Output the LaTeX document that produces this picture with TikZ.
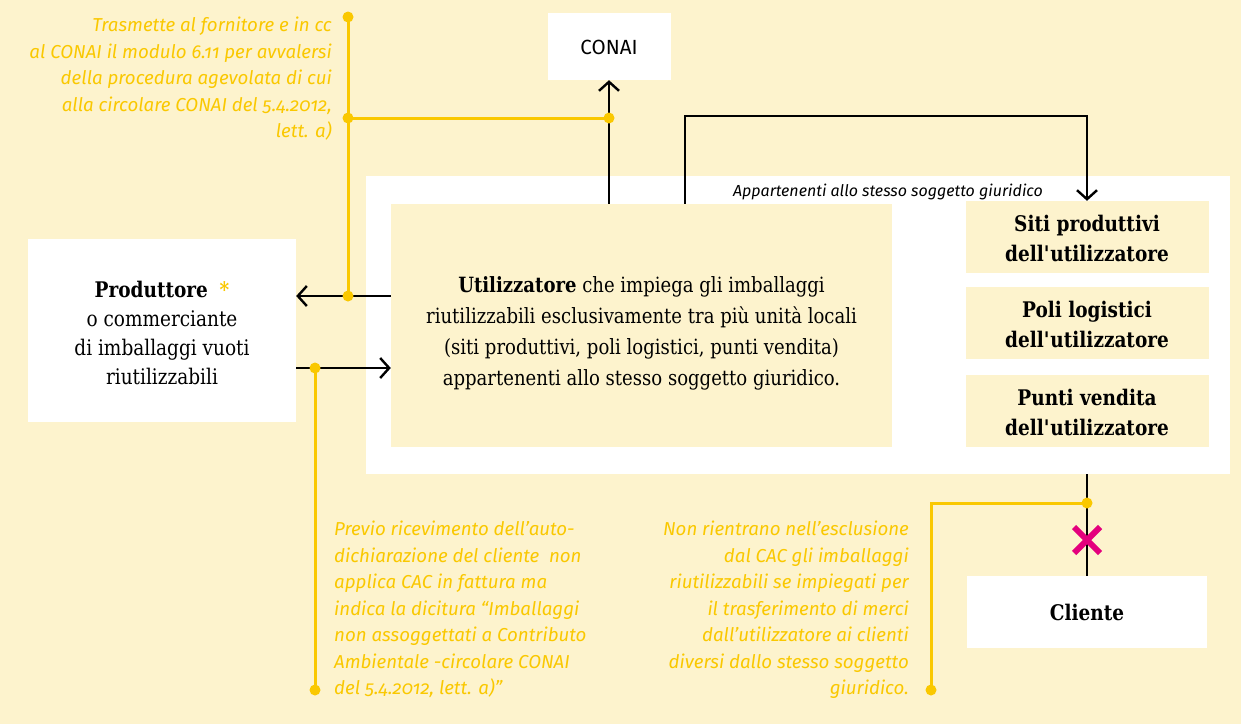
\documentclass[tikz,border=0pt]{standalone}
\usepackage{fontspec}
\setmainfont{DejaVu Serif}[FakeStretch=0.86]
\newfontfamily\notefont{Fira Sans}[Numbers=OldStyle]
\newfontfamily\labelfont{Fira Sans}
\usetikzlibrary{arrows.meta, positioning, shapes.misc}
\definecolor{paper}{RGB}{253, 243, 205}
\definecolor{gold}{RGB}{250, 200, 0}
\definecolor{mag}{RGB}{228, 0, 125}
% lines of a box text, moved down a little
\newcommand{\droptext}[2]{\raisebox{-#1}[\height][\depth]{\begin{tabular}{@{}c@{}}#2\end{tabular}}}

\begin{document}
\begin{tikzpicture}[
    x=1pt, y=-1pt,
    >={Straight Barb[length=9pt, width=20pt]},
    box/.style={rectangle, fill=#1, inner sep=0pt, align=center,
      font=\fontsize{21}{31}\selectfont},
    unit/.style={box=paper, minimum width=243pt, minimum height=72pt,
      font=\fontsize{21.5}{30}\selectfont\bfseries},
    note/.style={inner sep=0pt, text=gold,
      font=\notefont\itshape\fontsize{18.7}{26.5}\selectfont},
    arr/.style={->, line width=2.4pt},
    link/.style={line width=2.4pt},
    tie/.style={gold, line width=3pt},
    dot/.style={circle, fill=gold, inner sep=0pt, minimum size=11pt},
    nox/.style={cross out, draw=mag, line width=6pt, minimum size=20pt, inner sep=0pt}
  ]
  \fill[paper] (0,0) rectangle (1241,724);
  \useasboundingbox (0,0) rectangle (1241,724);

  % same legal entity
  \node[box=white, minimum width=864pt, minimum height=298pt] (group) at (798,325) {};
  \node[anchor=base, inner sep=0pt, font=\labelfont\itshape\fontsize{16}{18}\selectfont]
    (grouplbl) at (888,196) {Appartenenti allo stesso soggetto giuridico};

  \node[box=paper, minimum width=501pt, minimum height=243pt] (util) at (641.5,325.5)
    {\droptext{7pt}{\textbf{Utilizzatore} che impiega gli imballaggi\\
     riutilizzabili esclusivamente tra più unità locali\\
     (siti produttivi, poli logistici, punti vendita)\\
     appartenenti allo stesso soggetto giuridico.}};

  \node[unit] (siti) at (1087,237) {\droptext{3.5pt}{Siti produttivi\\dell\textquotesingle utilizzatore}};
  \node[unit] (poli) at (1087,323) {\droptext{3.5pt}{Poli logistici\\dell\textquotesingle utilizzatore}};
  \node[unit] (punti) at (1087,411) {\droptext{3.5pt}{Punti vendita\\dell\textquotesingle utilizzatore}};

  \node[box=white, minimum width=123pt, minimum height=67pt,
    font=\labelfont\fontsize{20.5}{24}\selectfont] (conai) at (609,46.5) {\droptext{3pt}{CONAI}};

  \node[box=white, minimum width=268pt, minimum height=183pt,
    font=\fontsize{21.5}{29}\selectfont] (prod) at (162,330.5)
    {\droptext{5pt}{\textbf{Produttore}\ \ \textcolor{gold}{\textbf{*}}\\
     o commerciante\\
     di imballaggi vuoti\\
     riutilizzabili}};

  \node[box=white, minimum width=240pt, minimum height=72pt,
    font=\fontsize{21.5}{30}\selectfont\bfseries] (cliente) at (1087,612) {Cliente};

  \draw[arr] (util.north -| conai) -- (conai.south);
  \draw[arr] ([xshift=43.5pt]util.north) -- ++(0,-88) -| (siti.north);
  \draw[arr] ([yshift=29.5pt]util.west) -- ([yshift=29.5pt]util.west -| prod.east);
  \draw[arr] ([yshift=-42.5pt]util.west -| prod.east) -- ([yshift=-42.5pt]util.west);
  \draw[link] (group.south -| cliente) -- (cliente.north);
  \node[nox] (stop) at (1087,540) {};

  % notes
  \node[dot] (ntop) at (348,17) {};
  \node[dot] (nleft) at (348,118) {};
  \node[dot] (nback) at (348,296) {};
  \node[dot] (nconai) at (nleft -| conai) {};
  \node[dot] (nfwd) at (315,368) {};
  \node[dot] (nbot) at (315,690) {};
  \node[dot] (ncli) at (1087,503) {};
  \coordinate (bend) at (931,503);
  \node[dot] (nend) at (931,690) {};

  \draw[tie] (ntop.center) -- (nback.center);
  \draw[tie] (nleft.center) -- (nconai.center);
  \draw[tie] (nfwd.center) -- (nbot.center);
  \draw[tie] (ncli.center) -- (bend) -- (nend.center);

  \node[note, anchor=north east, align=right] (txtconai) at (332,17)
    {Trasmette al fornitore e in cc\\
     al CONAI il modulo 6.11 per avvalersi\\
     della procedura agevolata di cui\\
     alla circolare CONAI del 5.4.2012,\\
     lett. a)};
  \node[note, anchor=north west, align=left] (txtcac) at (334,521)
    {Previo ricevimento dell’auto-\\
     dichiarazione del cliente\ \ non\\
     applica CAC in fattura ma\\
     indica la dicitura “Imballaggi\\
     non assoggettati a Contributo\\
     Ambientale -circolare CONAI\\
     del 5.4.2012, lett. a)”};
  \node[note, anchor=north east, align=right] (txtcli) at (909,521)
    {Non rientrano nell’esclusione\\
     dal CAC gli imballaggi\\
     riutilizzabili se impiegati per\\
     il trasferimento di merci\\
     dall’utilizzatore ai clienti\\
     diversi dallo stesso soggetto\\
     giuridico.};
\end{tikzpicture}
\end{document}
